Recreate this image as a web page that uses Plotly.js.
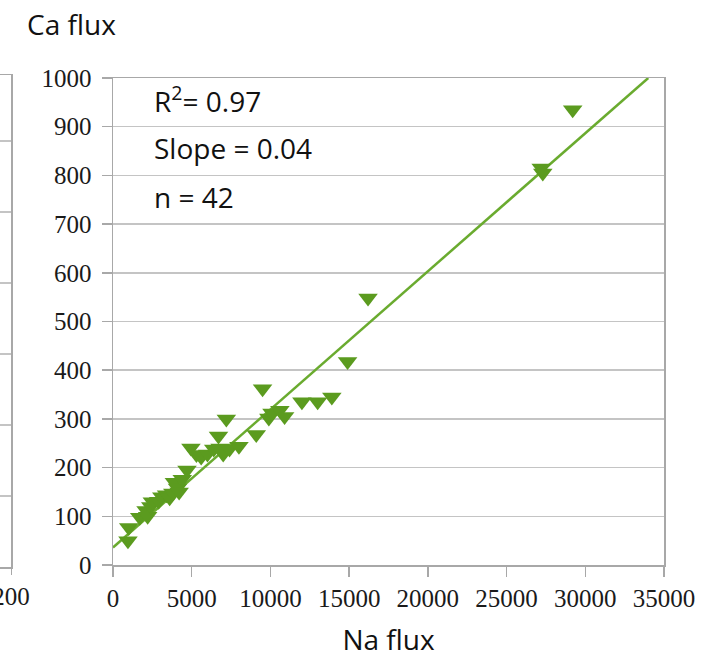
<!DOCTYPE html>
<html>
<head>
<meta charset="utf-8">
<script src="https://cdn.plot.ly/plotly-3.0.1.min.js"></script>
<style>html,body{margin:0;padding:0;background:#fff;}#chart{width:715px;height:660px;}</style>
</head>
<body>
<div id="chart"></div>
<script>
// Na flux (x) and Ca flux (y) for the 42 samples
var naFlux = [950, 1000, 1700, 2100, 2200, 2400, 2500, 2900, 3100, 3400, 3600, 3800, 3900, 4100, 4200,
              4400, 4700, 4950, 5300, 5600, 6000, 6400, 6700, 6800, 7000, 7200, 7400, 8000, 9100, 9500,
              9900, 10100, 10600, 10900, 12000, 13000, 13900, 14900, 16200, 27200, 27300, 29200];
var caFlux = [50, 77, 98, 112, 100, 120, 130, 131, 140, 144, 138, 148, 170, 158, 150,
              176, 195, 240, 227, 222, 228, 238, 265, 240, 228, 300, 238, 244, 268, 362,
              302, 312, 318, 305, 335, 335, 345, 418, 548, 815, 805, 935];
// fitted trend line end points
var trendX = [0, 34000];
var trendY = [36, 1000];
// axis ticks
var yTicks = [0, 100, 200, 300, 400, 500, 600, 700, 800, 900, 1000];
var xTicks = [0, 5000, 10000, 15000, 20000, 25000, 30000, 35000];
// neighbouring (cropped) panel on the left
var leftPanelTick = [200];
var leftPanelGrid = [0, 1, 2, 3, 4, 5, 6];
// statistics
var statLabels = ['R<sup>2</sup>= 0.97', 'Slope = 0.04', 'n = 42'];
var statY = [955, 856, 756];

var green = '#5b9b1f';
var lineGreen = '#6aab2f';
var grid = '#c4c4c4';
var axisCol = '#a8a8a8';
var tickFont = {family: '"Liberation Serif", "Times New Roman", serif', size: 25, color: '#1a1a1a'};
var sansFont = {family: '"Open Sans", "Noto Sans", sans-serif', size: 28, color: '#111'};

var traces = [
  {x: trendX, y: trendY, type: 'scatter', mode: 'lines', line: {color: lineGreen, width: 2.5},
   hoverinfo: 'skip', showlegend: false, xaxis: 'x', yaxis: 'y'},
  {x: naFlux, y: caFlux, type: 'scatter', mode: 'markers',
   marker: {symbol: 'triangle-down', size: 17, color: green}, showlegend: false, xaxis: 'x', yaxis: 'y'},
  {x: [195, 200], y: [0, 0], type: 'scatter', mode: 'none', showlegend: false, hoverinfo: 'skip',
   xaxis: 'x2', yaxis: 'y2'}
];

var annotations = statLabels.map(function (t, i) {
  return {x: 2500, y: statY[i], xref: 'x', yref: 'y', text: t, showarrow: false,
          xanchor: 'left', yanchor: 'middle', font: sansFont};
});

var layout = {
  width: 715, height: 660,
  margin: {l: 0, r: 51, t: 75, b: 93, pad: 0},
  paper_bgcolor: '#fff', plot_bgcolor: '#fff',
  showlegend: false,
  title: {text: 'Ca flux', font: sansFont, xref: 'container', yref: 'container',
          x: 27 / 715, xanchor: 'left', y: 1 - 25 / 660, yanchor: 'middle'},
  xaxis: {domain: [113 / 664, 1], range: [0, 35000], tickvals: xTicks, ticktext: xTicks.map(String),
          showgrid: false, zeroline: false, showline: true, linecolor: axisCol, linewidth: 1.5, mirror: true,
          ticks: 'outside', ticklen: 10, tickcolor: axisCol, tickwidth: 1.5, tickfont: tickFont,
          ticklabeloverflow: 'allow',
          title: {text: 'Na flux', font: sansFont, standoff: 20}, anchor: 'y'},
  yaxis: {domain: [2 / 492, 489 / 492], range: [0, 1000], tickvals: yTicks, ticktext: yTicks.map(String),
          showgrid: true, gridcolor: grid, gridwidth: 1.5, zeroline: false,
          showline: true, linecolor: axisCol, linewidth: 1.5, mirror: true,
          ticks: 'outside', ticklen: 10, tickcolor: axisCol, tickwidth: 1.5, tickfont: tickFont,
          ticklabelstandoff: 5, ticklabeloverflow: 'allow', anchor: 'x'},
  xaxis2: {domain: [0, 11 / 664], range: [195, 200], tickvals: leftPanelTick, ticktext: leftPanelTick.map(String),
           showgrid: false, zeroline: false, showline: true, linecolor: axisCol, linewidth: 1.5, mirror: true,
           ticks: 'outside', ticklen: 6, tickcolor: axisCol, tickfont: tickFont, ticklabeloverflow: 'allow',
           anchor: 'y2', fixedrange: true},
  yaxis2: {domain: [0, 1], range: [0, 6.93], tickvals: leftPanelGrid, showticklabels: false,
           showgrid: true, gridcolor: grid, gridwidth: 1.5, zeroline: false, side: 'right',
           showline: true, linecolor: axisCol, linewidth: 1.5, ticks: '', anchor: 'x2', fixedrange: true},
  annotations: annotations
};

Plotly.newPlot('chart', traces, layout, {displayModeBar: false, staticPlot: true});
</script>
</body>
</html>
